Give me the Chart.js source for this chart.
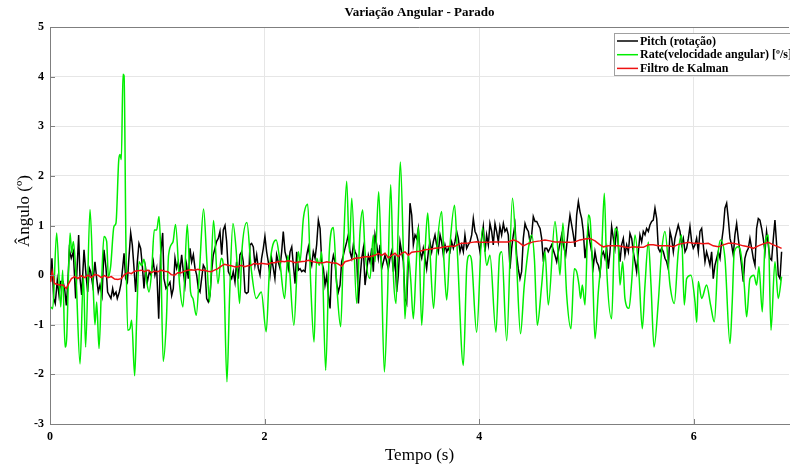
<!DOCTYPE html>
<html>
<head>
<meta charset="utf-8">
<script src="https://cdn.jsdelivr.net/npm/chart.js@4/dist/chart.umd.min.js"></script>
<style>
  html, body { margin: 0; padding: 0; background: #fff; }
  #wrap { width: 790px; height: 469px; position: relative; }
</style>
</head>
<body>
<div id="wrap"><canvas id="angulo"></canvas></div>
<script>
// Pitch (rotação) - black
const pitchT = [0.006,0.018,0.034,0.049,0.068,0.084,0.099,0.121,0.136,0.152,0.167,0.180,0.198,0.217,0.239,0.267,
  0.280,0.295,0.317,0.336,0.351,0.367,0.379,0.398,0.419,0.435,0.450,0.466,0.485,0.503,0.522,0.537,0.553,0.568,0.584,
  0.596,0.615,0.627,0.646,0.662,0.677,0.690,0.705,0.721,0.733,0.752,0.767,0.783,0.798,0.814,0.829,0.845,0.860,0.876,
  0.891,0.907,0.926,0.941,0.963,0.978,0.994,1.013,1.031,1.050,1.062,1.081,1.103,1.118,1.134,1.149,1.165,1.180,1.196,
  1.211,1.227,1.242,1.258,1.273,1.289,1.305,1.320,1.336,1.351,1.367,1.382,1.398,1.413,1.429,1.444,1.460,1.475,1.491,
  1.506,1.522,1.537,1.553,1.568,1.584,1.600,1.615,1.631,1.646,1.662,1.677,1.693,1.708,1.724,1.739,1.755,1.770,1.786,
  1.801,1.817,1.832,1.848,1.863,1.879,1.895,1.910,1.926,1.941,1.957,1.972,1.988,2.003,2.019,2.034,2.050,2.065,2.081,
  2.096,2.112,2.127,2.143,2.159,2.174,2.190,2.205,2.221,2.237,2.253,2.268,2.284,2.299,2.315,2.330,2.346,2.361,2.377,
  2.392,2.408,2.423,2.439,2.454,2.470,2.485,2.501,2.517,2.532,2.548,2.563,2.579,2.594,2.610,2.625,2.641,2.656,2.672,
  2.687,2.703,2.718,2.734,2.749,2.765,2.780,2.796,2.812,2.827,2.843,2.858,2.874,2.889,2.905,2.920,2.936,2.951,2.967,
  2.982,2.998,3.013,3.029,3.045,3.060,3.076,3.091,3.107,3.122,3.138,3.153,3.169,3.184,3.200,3.215,3.231,3.246,3.262,
  3.277,3.293,3.308,3.324,3.339,3.355,3.371,3.386,3.402,3.417,3.433,3.448,3.464,3.479,3.495,3.510,3.526,3.541,3.557,
  3.572,3.588,3.603,3.619,3.635,3.650,3.666,3.681,3.697,3.712,3.728,3.743,3.759,3.774,3.790,3.805,3.821,3.836,3.852,
  3.867,3.883,3.898,3.914,3.930,3.945,3.961,3.976,3.992,4.007,4.023,4.038,4.054,4.069,4.085,4.100,4.116,4.131,4.147,
  4.162,4.178,4.193,4.209,4.225,4.240,4.256,4.271,4.287,4.302,4.318,4.333,4.349,4.364,4.380,4.395,4.411,4.427,4.442,
  4.458,4.473,4.489,4.504,4.520,4.536,4.551,4.567,4.582,4.598,4.613,4.629,4.644,4.675,4.706,4.722,4.737,4.768,4.784,
  4.806,4.831,4.846,4.862,4.877,4.893,4.908,4.924,4.939,4.955,4.970,4.986,5.001,5.017,5.032,5.048,5.063,5.079,5.095,
  5.110,5.126,5.141,5.157,5.172,5.188,5.203,5.219,5.234,5.250,5.265,5.281,5.296,5.312,5.327,5.343,5.358,5.374,5.390,
  5.405,5.421,5.436,5.452,5.467,5.483,5.498,5.514,5.529,5.545,5.560,5.576,5.591,5.607,5.622,5.638,5.654,5.669,5.685,
  5.700,5.716,5.731,5.747,5.762,5.778,5.793,5.809,5.824,5.840,5.855,5.871,5.886,5.902,5.918,5.933,5.949,5.964,5.980,
  5.995,6.011,6.026,6.042,6.057,6.073,6.088,6.104,6.119,6.135,6.150,6.166,6.181,6.197,6.213,6.228,6.244,6.259,6.275,
  6.290,6.306,6.321,6.337,6.352,6.368,6.383,6.399,6.414,6.430,6.445,6.461,6.476,6.492,6.508,6.523,6.539,6.554,6.570,
  6.585,6.601,6.616,6.632,6.647,6.663,6.678,6.694,6.709,6.725,6.741,6.756,6.772,6.787,6.803,6.818];
const pitchY = [-0.13,0.34,-0.47,-0.57,-0.10,-0.40,-0.13,-0.13,-0.27,-0.61,-0.13,0.51,0.34,0.47,-0.47,0.81,
  -0.07,-0.40,0.51,0.00,-0.34,0.14,0.07,-0.20,0.27,-0.07,-0.34,-0.20,-0.41,0.51,0.14,-0.34,-0.41,-0.47,-0.27,
  -0.41,-0.34,-0.47,-0.34,-0.17,0.14,0.44,-0.07,-0.14,0.27,0.85,0.61,0.14,-0.34,0.27,0.64,0.54,0.20,-0.27,
  0.14,-0.14,0.07,0.00,0.27,0.00,0.14,-0.88,0.41,0.85,-0.07,-0.27,-0.20,-0.14,-0.41,-0.27,0.34,0.14,0.27,
  0.07,0.41,0.07,-0.20,0.20,-0.07,0.54,0.27,0.41,0.14,0.00,-0.27,-0.34,-0.07,0.20,0.14,-0.47,-0.54,-0.41,
  0.07,0.41,0.54,0.68,0.74,0.88,0.41,0.91,1.00,0.68,0.07,0.00,-0.07,0.07,-0.14,0.27,-0.07,0.41,0.47,
  0.27,-0.34,-0.37,-0.34,0.61,0.64,0.57,0.20,0.41,0.14,0.00,0.34,0.54,0.78,0.47,0.27,0.00,0.34,0.14,
  -0.07,0.41,0.27,0.14,0.47,0.88,0.47,0.34,0.14,0.47,0.57,0.20,-0.17,0.47,0.10,0.13,0.07,0.10,0.07,
  0.40,0.57,0.34,0.20,0.47,0.34,0.61,1.11,0.94,0.27,0.13,-0.20,0.00,-0.40,-0.67,0.20,0.40,0.27,-0.17,
  -0.34,-0.20,0.27,0.40,0.54,0.67,0.81,0.47,0.34,0.61,0.47,0.40,-0.57,-0.07,0.34,0.54,-0.20,0.07,0.40,
  0.27,0.54,0.07,0.81,0.61,0.34,0.61,0.13,0.27,0.40,0.27,0.13,0.34,0.47,0.07,0.40,-0.34,0.00,0.67,
  0.47,0.27,-0.47,-0.57,0.27,1.45,1.21,0.61,0.81,0.74,0.94,0.47,0.34,0.54,0.34,0.13,0.47,0.67,0.47,
  0.67,0.81,0.61,0.47,0.81,0.67,0.40,0.61,0.47,0.54,0.47,0.67,0.54,0.67,0.88,0.74,0.47,0.61,0.47,
  0.81,0.54,0.61,0.67,0.81,1.14,0.88,0.81,0.67,0.47,0.74,0.98,0.47,0.81,0.61,1.04,0.88,0.61,1.04,
  0.88,0.67,0.98,0.81,1.04,0.88,0.94,0.81,0.13,0.54,0.81,1.01,0.40,0.13,-0.07,0.07,0.74,1.04,0.94,
  0.88,0.67,0.81,1.18,1.08,1.08,1.01,0.94,0.74,0.27,0.54,0.54,0.47,0.61,0.40,0.27,0.47,0.81,0.61,
  0.40,0.94,1.21,1.01,0.81,0.57,1.21,1.48,1.28,1.14,0.88,0.34,0.61,0.94,0.67,0.47,0.17,0.47,0.27,
  0.20,0.03,0.40,0.47,0.34,0.54,0.13,0.47,0.98,0.74,0.54,0.98,0.61,0.27,0.61,0.74,0.40,0.61,0.47,
  0.84,0.74,0.47,0.27,0.07,0.47,0.81,0.67,0.88,0.81,0.94,0.88,1.01,1.08,1.11,1.35,1.14,0.54,0.47,
  0.54,0.47,0.34,0.27,0.13,0.88,0.74,0.47,0.74,0.88,1.01,0.88,0.61,0.74,0.47,0.54,0.74,0.98,0.67,
  0.54,0.61,0.74,0.47,0.88,0.94,0.61,0.27,0.47,0.34,0.20,0.47,-0.07,0.20,0.34,0.47,0.34,0.67,0.94,
  1.35,1.45,1.14,0.74,0.61,0.40,0.81,1.04,0.74,0.47,0.20,-0.13,0.34,0.47,0.54,0.74,0.54,0.34,0.20,
  0.94,1.14,1.11,0.94,0.74,0.47,0.88,0.61,0.34,0.30,0.74,1.11,0.61,0.00,-0.07,0.47];

// Rate (velocidade angular) - green
const rateT = [0.009,0.025,0.062,0.100,0.118,0.140,0.155,0.187,0.202,0.218,0.242,0.280,0.311,0.332,0.373,0.404,
  0.419,0.435,0.457,0.482,0.503,0.528,0.544,0.565,0.596,0.615,0.640,0.652,0.665,0.680,0.690,0.708,0.724,0.745,
  0.761,0.789,0.808,0.829,0.854,0.876,0.901,0.923,0.947,0.972,0.994,1.016,1.031,1.055,1.085,1.105,1.146,1.170,
  1.208,1.239,1.279,1.310,1.332,1.363,1.394,1.431,1.462,1.487,1.524,1.565,1.596,1.618,1.649,1.674,1.705,1.736,
  1.767,1.788,1.835,1.875,1.922,1.969,2.015,2.046,2.108,2.139,2.186,2.217,2.273,2.315,2.330,2.361,2.402,2.430,
  2.461,2.485,2.510,2.532,2.569,2.603,2.641,2.672,2.709,2.734,2.765,2.790,2.812,2.858,2.889,2.914,2.936,2.982,
  3.013,3.029,3.063,3.085,3.116,3.144,3.175,3.200,3.225,3.246,3.265,3.293,3.308,3.339,3.361,3.386,3.411,3.433,
  3.464,3.495,3.520,3.541,3.575,3.604,3.650,3.672,3.697,3.728,3.770,3.796,3.852,3.885,3.910,3.930,3.976,4.030,
  4.070,4.100,4.156,4.190,4.210,4.256,4.310,4.345,4.385,4.420,4.490,4.515,4.541,4.582,4.613,4.644,4.706,4.737,
  4.753,4.780,4.815,4.855,4.886,4.908,4.930,4.945,4.961,4.986,5.017,5.032,5.054,5.079,5.110,5.141,5.166,5.188,
  5.234,5.265,5.290,5.312,5.337,5.358,5.396,5.421,5.452,5.489,5.520,5.545,5.576,5.601,5.629,5.669,5.700,5.731,
  5.778,5.818,5.855,5.886,5.911,5.933,5.973,6.011,6.027,6.042,6.073,6.119,6.157,6.191,6.228,6.250,6.290,6.337,
  6.358,6.377,6.414,6.436,6.470,6.492,6.523,6.560,6.585,6.607,6.638,6.663,6.694,6.719,6.756,6.787,6.818];
const rateY = [-0.64,-0.68,0.85,-0.64,0.10,-1.45,-1.28,0.85,0.45,0.68,0.00,-1.79,0.00,-1.45,1.32,-0.34,
  -1.00,-0.54,-1.48,-0.07,0.78,0.68,-0.03,0.17,0.98,1.05,2.30,2.43,2.33,4.05,4.02,0.54,-1.11,-1.08,
  -0.91,-2.03,-0.88,0.27,0.19,0.32,-0.13,-0.34,0.07,0.91,0.91,1.18,0.54,-1.74,-0.90,0.40,0.67,1.02,
  -0.20,-0.64,1.02,-0.34,-0.47,-0.81,0.13,1.33,0.27,-0.54,1.10,-0.17,0.34,0.13,-2.15,-0.40,1.04,0.47,
  -0.57,0.47,1.06,0.13,-0.47,-0.34,-1.14,0.13,0.71,0.34,-0.47,0.40,-1.01,0.47,0.27,1.14,1.43,-0.20,
  -1.35,0.34,0.20,0.47,-1.92,0.47,0.96,-0.20,-1.04,0.47,1.89,0.47,1.55,-0.57,0.88,1.31,0.47,-0.07,
  0.81,0.27,1.68,0.47,-1.95,-0.54,1.82,0.00,-0.57,1.14,2.28,0.47,-0.88,0.40,-0.07,-0.88,0.13,0.98,
  -1.01,0.47,1.25,0.47,-0.67,0.47,1.28,0.27,-0.50,0.61,1.41,0.47,-1.82,0.20,0.40,0.27,-1.15,0.95,
  0.20,0.40,-1.15,0.40,0.47,-1.32,1.55,0.40,-1.18,-0.20,0.81,0.30,-1.01,-0.20,0.47,-0.60,1.08,0.40,
  0.00,1.05,-0.40,-1.08,0.13,0.07,-0.20,-0.47,-0.20,-0.60,1.21,1.14,0.27,-1.28,-0.34,0.47,1.65,0.13,
  -0.88,0.94,0.88,-0.20,0.27,-0.47,-0.67,-0.13,0.81,0.00,-1.08,-0.20,0.67,-0.20,-1.45,-0.54,0.47,0.88,
  -0.20,-0.57,0.47,0.81,-0.60,-0.07,0.00,-0.54,-0.95,-0.13,-0.47,-0.20,-0.61,-0.94,0.47,0.71,0.34,-1.38,
  -0.54,0.47,0.57,0.47,-0.20,-0.84,-0.07,0.00,-0.20,0.17,-0.74,0.61,0.81,-1.11,0.27,-0.47,-0.03];

// Filtro de Kalman - red
const kalmanT = [0.005,0.020,0.043,0.090,0.120,0.152,0.174,0.200,0.230,0.260,0.290,0.323,0.354,0.385,0.416,0.447,
  0.478,0.509,0.540,0.571,0.602,0.633,0.664,0.695,0.727,0.758,0.789,0.820,0.851,0.882,0.913,0.944,0.975,1.006,
  1.037,1.068,1.099,1.130,1.161,1.192,1.223,1.254,1.285,1.316,1.347,1.378,1.409,1.440,1.471,1.502,1.533,1.565,
  1.596,1.627,1.658,1.689,1.720,1.751,1.782,1.813,1.844,1.875,1.906,1.937,1.968,1.999,2.030,2.061,2.092,2.123,
  2.155,2.186,2.217,2.248,2.284,2.330,2.377,2.408,2.454,2.501,2.548,2.579,2.625,2.672,2.718,2.749,2.796,2.843,
  2.889,2.936,2.982,3.029,3.060,3.091,3.122,3.153,3.184,3.215,3.246,3.277,3.308,3.339,3.371,3.402,3.448,3.495,
  3.541,3.588,3.635,3.681,3.728,3.774,3.805,3.836,3.883,3.930,3.976,4.023,4.069,4.116,4.162,4.225,4.271,4.318,
  4.364,4.411,4.458,4.504,4.567,4.613,4.660,4.706,4.753,4.800,4.846,4.893,4.939,4.986,5.032,5.079,5.126,5.157,
  5.203,5.250,5.296,5.343,5.390,5.436,5.483,5.529,5.576,5.622,5.669,5.716,5.762,5.809,5.855,5.902,5.949,5.995,
  6.042,6.088,6.135,6.181,6.228,6.275,6.321,6.368,6.414,6.461,6.508,6.554,6.601,6.647,6.694,6.741,6.787,6.818];
const kalmanY = [-0.14,0.07,-0.17,-0.20,-0.20,-0.27,-0.17,-0.07,-0.03,-0.07,-0.01,-0.05,0.00,-0.05,0.01,0.00,
  -0.05,-0.01,-0.05,-0.03,-0.08,-0.09,-0.07,0.01,0.05,0.03,0.08,0.09,0.10,0.07,0.10,0.05,0.08,0.07,
  0.10,0.08,0.07,0.01,0.00,0.05,0.05,0.08,0.10,0.11,0.10,0.12,0.10,0.10,0.08,0.07,0.10,0.13,
  0.18,0.22,0.20,0.19,0.17,0.17,0.20,0.17,0.19,0.20,0.24,0.22,0.24,0.23,0.22,0.25,0.25,0.27,
  0.28,0.27,0.29,0.28,0.25,0.27,0.28,0.30,0.27,0.25,0.25,0.27,0.25,0.24,0.18,0.27,0.30,0.34,
  0.35,0.37,0.37,0.40,0.44,0.40,0.44,0.35,0.40,0.44,0.37,0.44,0.47,0.40,0.46,0.47,0.48,0.51,
  0.52,0.54,0.55,0.57,0.58,0.58,0.62,0.64,0.64,0.66,0.67,0.66,0.66,0.67,0.67,0.67,0.67,0.71,
  0.67,0.59,0.64,0.67,0.69,0.71,0.69,0.67,0.67,0.66,0.66,0.67,0.71,0.73,0.74,0.69,0.61,0.57,
  0.59,0.59,0.59,0.57,0.55,0.57,0.56,0.56,0.61,0.61,0.59,0.59,0.59,0.57,0.62,0.64,0.66,0.64,
  0.64,0.63,0.64,0.59,0.57,0.61,0.64,0.64,0.62,0.59,0.57,0.54,0.59,0.63,0.66,0.61,0.57,0.54];

const xTicks = [0, 2, 4, 6];
const yMin = -3, yMax = 5;
const tMax = 6.887;

const serif = '"Liberation Serif", "Times New Roman", serif';

const pairs = (t, v) => t.map((x, i) => ({ x: x, y: v[i] }));

// texts around the axes, the box line on top, inward ticks and the legend
const matlabFrame = {
    id: 'matlabFrame',
    afterDraw(chart) {
        const { ctx, chartArea: a, scales } = chart;
        ctx.save();

        ctx.strokeStyle = '#7f7f7f';
        ctx.lineWidth = 1;
        ctx.beginPath();
        ctx.moveTo(a.left, a.top + 0.5);
        ctx.lineTo(a.right, a.top + 0.5);
        xTicks.forEach(v => {
            const px = Math.round(scales.x.getPixelForValue(v)) + 0.5;
            ctx.moveTo(px, a.bottom);
            ctx.lineTo(px, a.bottom - 5);
        });
        for (let v = yMin; v <= yMax; v++) {
            const py = Math.round(scales.y.getPixelForValue(v)) + 0.5;
            ctx.moveTo(a.left, py);
            ctx.lineTo(a.left + 5, py);
        }
        ctx.stroke();

        ctx.fillStyle = '#000';
        ctx.textAlign = 'center';
        ctx.textBaseline = 'middle';
        ctx.font = 'bold 13px ' + serif;
        ctx.fillText('Variação Angular - Parado', (a.left + a.right) / 2, 13);

        ctx.font = '17px ' + serif;
        ctx.fillText('Tempo (s)', (a.left + a.right) / 2, 456);

        ctx.save();
        ctx.translate(25, 211);
        ctx.rotate(-Math.PI / 2);
        ctx.fillText('Ângulo (º)', 0, 0);
        ctx.restore();

        // legend box
        const bx = 614.5, by = 33.5, bw = 180, bh = 42;
        ctx.fillStyle = '#fff';
        ctx.fillRect(bx, by, bw, bh);
        ctx.strokeStyle = '#a0a0a0';
        ctx.strokeRect(bx, by, bw, bh);
        ctx.font = 'bold 12px ' + serif;
        ctx.textAlign = 'left';
        chart.data.datasets.forEach((ds, i) => {
            const ry = 41 + i * 13.7;
            ctx.strokeStyle = ds.borderColor;
            ctx.lineWidth = 1.5;
            ctx.beginPath();
            ctx.moveTo(617, ry);
            ctx.lineTo(638, ry);
            ctx.stroke();
            ctx.fillStyle = '#000';
            ctx.fillText(ds.label, 640, ry + 0.5);
        });
        ctx.restore();
    }
};

new Chart(document.getElementById('angulo'), {
    type: 'line',
    data: {
        datasets: [{
            label: 'Pitch (rotação)',
            data: pairs(pitchT, pitchY),
            borderColor: '#000000',
            borderWidth: 1.5,
            order: 2
        }, {
            label: 'Rate(velocidade angular) [º/s]',
            data: pairs(rateT, rateY),
            borderColor: '#00ee00',
            borderWidth: 1.5,
            cubicInterpolationMode: 'monotone',
            order: 1
        }, {
            label: 'Filtro de Kalman',
            data: pairs(kalmanT, kalmanY),
            borderColor: '#ee1111',
            borderWidth: 1.5,
            order: 0
        }]
    },
    options: {
        responsive: true,
        maintainAspectRatio: false,
        animation: false,
        layout: { padding: { top: 27, right: 1, left: 0, bottom: 0 } },
        elements: { point: { radius: 0 }, line: { tension: 0 } },
        plugins: {
            legend: { display: false },
            title: { display: false },
            tooltip: { enabled: false }
        },
        scales: {
            x: {
                type: 'linear',
                min: 0,
                max: tMax,
                afterFit: (s) => { s.height = 45; },
                afterBuildTicks: (s) => { s.ticks = xTicks.map(v => ({ value: v })); },
                grid: { color: '#e6e6e6', drawTicks: false },
                border: { color: '#7f7f7f' },
                ticks: {
                    padding: 6,
                    color: '#000',
                    maxRotation: 0,
                    font: { family: serif, size: 12, weight: 'bold' }
                }
            },
            y: {
                min: yMin,
                max: yMax,
                afterFit: (s) => { s.width = 50; },
                grid: { color: '#e6e6e6', drawTicks: false },
                border: { color: '#7f7f7f' },
                ticks: {
                    stepSize: 1,
                    padding: 6,
                    color: '#000',
                    font: { family: serif, size: 12, weight: 'bold' }
                }
            }
        }
    },
    plugins: [matlabFrame]
});
</script>
</body>
</html>
